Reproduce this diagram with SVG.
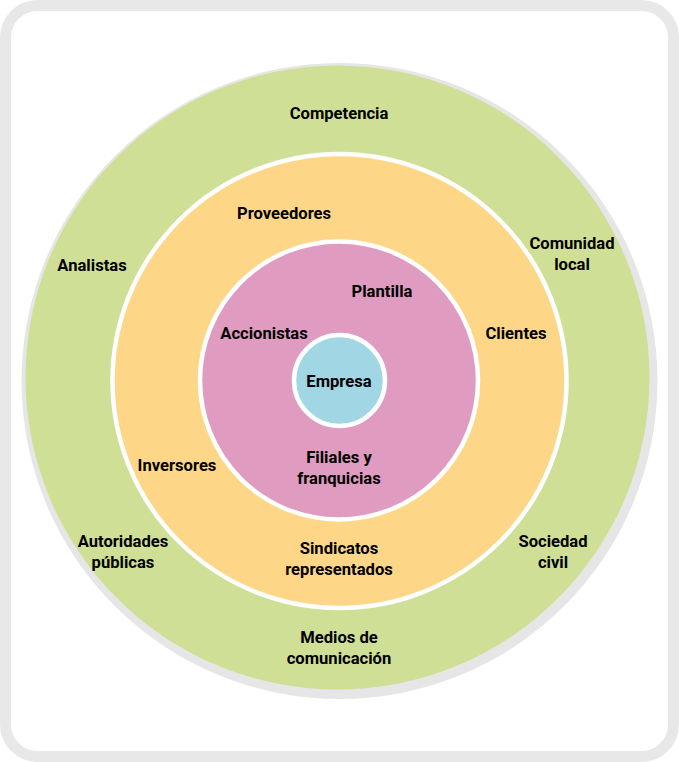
<svg xmlns="http://www.w3.org/2000/svg" width="679" height="762" viewBox="0 0 679 762">
<style>
text{font-family:Roboto,"Liberation Sans",sans-serif;font-weight:bold;font-size:16.6px;fill:#000;text-anchor:middle}
.ring{stroke:#fff;stroke-width:4.5}
</style>
<rect x="5.5" y="5.5" width="668" height="751" rx="32" fill="#fff" stroke="#e8e8e8" stroke-width="11"/>
<g id="outer">
<circle cx="339.5" cy="381" r="318" fill="#e6e6e6"/>
<circle cx="337.5" cy="377.5" r="312" fill="#cfdf96"/>
</g>
<g id="middle"><circle class="ring" cx="339.5" cy="381" r="227" fill="#fdd787"/></g>
<g id="inner"><circle class="ring" cx="339" cy="380.5" r="139" fill="#e09bc0"/></g>
<g id="core"><circle class="ring" cx="339.5" cy="380.5" r="45.5" fill="#a1d6e4"/></g>
<g id="connectors"/>
<g id="labels">
<text x="339" y="119">Competencia</text>
<text x="284" y="219">Proveedores</text>
<text x="572" y="249">Comunidad</text>
<text x="572" y="270">local</text>
<text x="92" y="271">Analistas</text>
<text x="382" y="297">Plantilla</text>
<text x="264" y="339">Accionistas</text>
<text x="516" y="339">Clientes</text>
<text x="339" y="387">Empresa</text>
<text x="339" y="463">Filiales y</text>
<text x="339" y="484">franquicias</text>
<text x="177" y="471">Inversores</text>
<text x="123" y="547">Autoridades</text>
<text x="123" y="568">públicas</text>
<text x="553" y="547">Sociedad</text>
<text x="553" y="568">civil</text>
<text x="339" y="554">Sindicatos</text>
<text x="339" y="575">representados</text>
<text x="339" y="643">Medios de</text>
<text x="339" y="664">comunicación</text>
</g>
</svg>
